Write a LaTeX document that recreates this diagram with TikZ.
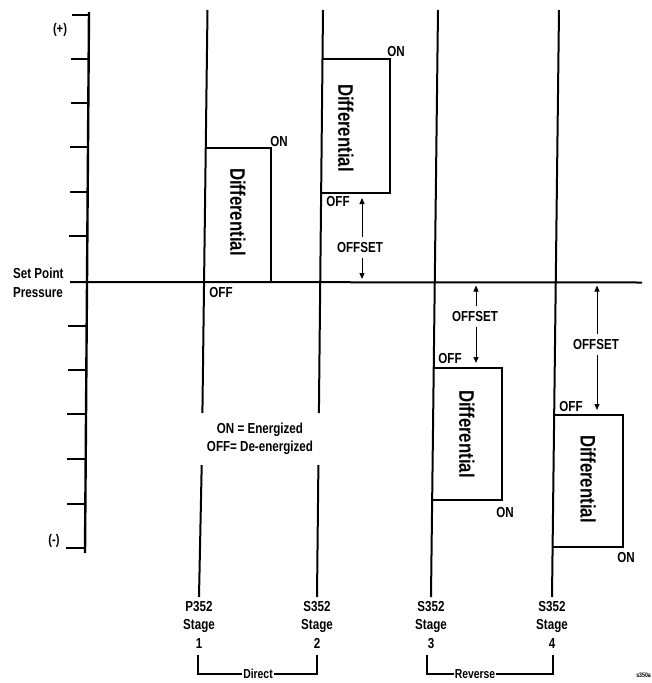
\documentclass[tikz,border=0pt]{standalone}
\usepackage{fontspec}
\setmainfont{Liberation Sans}[FakeStretch=0.8]
\usetikzlibrary{arrows.meta}
\begin{document}
\begin{tikzpicture}[x=1pt,y=-1pt,
  lbl/.style={font=\fontsize{14.5}{18.5}\selectfont\bfseries, inner sep=0pt},
  big/.style={font=\fontsize{21}{21}\selectfont\bfseries, rotate=-90, inner sep=0pt},
  ln/.style={line width=2pt},
  edge/.style={line width=1.8pt},
  tickln/.style={line width=2pt},
  offarrow/.style={line width=1pt, -{Triangle[length=6pt,width=5pt]}},
  brk/.style={line width=1.5pt},
]
\useasboundingbox (0,0) rectangle (652,683);

% vertical axis with ticks
\coordinate (axtop) at (89,12);
\coordinate (axbot) at (85,553);
\draw[line width=2.4pt] (axtop) -- (axbot);
\foreach \a/\b/\y in {72/89/15, 71/88.7/59, 71/88.4/103, 70/88/147, 70/87.7/192, 69/87.3/236,
                      68/86.7/326, 68/86.4/370, 67/86/414, 67/85.6/459, 67/85.3/504, 66/85/548}
  \draw[tickln] (\a,\y) -- (\b,\y);
\node[lbl, font=\fontsize{14}{14}\selectfont\bfseries] (plus) at (60,30) {(+)};
\node[lbl, font=\fontsize{14}{14}\selectfont\bfseries] (minus) at (54,541) {(-)};

% set point line
\coordinate (sp0) at (70,282);
\coordinate (sp1) at (642,282.5);
\draw[ln] (sp0) -- (sp1);
\node[lbl, align=left, anchor=west, font=\fontsize{14.5}{19}\selectfont\bfseries] (spl) at (13,283) {Set Point\\Pressure};

% stage labels
\node[lbl, align=center, anchor=north] (s1) at (199,601) {P352\\Stage\\1};
\node[lbl, align=center, anchor=north] (s2) at (317,601) {S352\\Stage\\2};
\node[lbl, align=center, anchor=north] (s3) at (431,601) {S352\\Stage\\3};
\node[lbl, align=center, anchor=north] (s4) at (552,601) {S352\\Stage\\4};

% legend
\node[lbl, align=center] (leg) at (260,439) {ON = Energized\\OFF= De-energized};

% stage lines
\coordinate (t1) at (207.5,10);
\coordinate (t2) at (323,10);
\coordinate (t3) at (438,10);
\coordinate (t4) at (559,10);
\draw[ln] (t1) -- (202.4,413);
\draw[ln] (201.7,465) -- ([yshift=4pt]s1.north);
\draw[ln] (t2) -- (318.9,413);
\draw[ln] (318.4,465) -- ([yshift=4pt]s2.north);
\draw[ln] (t3) -- ([yshift=4pt]s3.north);
\draw[ln] (t4) -- ([yshift=4pt]s4.north);

% differential boxes (left side is the stage line)
\draw[edge] (205.7,148) -- (271,148) -- (271,282);
\draw[edge] (322.5,59) -- (390,59) -- (390,193) -- (321.1,193);
\draw[edge] (434.3,368) -- (502,368) -- (502,500) -- (433,500);
\draw[edge] (554.2,415) -- (623,415) -- (623,547) -- (552.6,547);

\node[big] (d1) at (238,212) {Differential};
\node[big] (d2) at (346,128) {Differential};
\node[big] (d3) at (467,434) {Differential};
\node[big] (d4) at (588,479) {Differential};

% ON / OFF labels
\node[lbl] (on1) at (279,142) {ON};
\node[lbl] (off1) at (221,293) {OFF};
\node[lbl] (on2) at (396,52) {ON};
\node[lbl] (off2) at (338,202) {OFF};
\node[lbl] (off3) at (450,359) {OFF};
\node[lbl] (on3) at (505,513) {ON};
\node[lbl] (off4) at (571,407) {OFF};
\node[lbl] (on4) at (626,558) {ON};

% offsets
\node[lbl] (o2) at (360,248) {OFFSET};
\draw[offarrow] ([xshift=2pt,yshift=6pt]o2.north) -- (362,198);
\draw[offarrow] ([xshift=2pt,yshift=-5pt]o2.south) -- (362,279);
\node[lbl] (o3) at (475,317) {OFFSET};
\draw[offarrow] ([xshift=1pt,yshift=6pt]o3.north) -- (476,285.5);
\draw[offarrow] ([xshift=1pt,yshift=-5pt]o3.south) -- (476,363);
\node[lbl] (o4) at (596,345) {OFFSET};
\draw[offarrow] ([xshift=1pt,yshift=6pt]o4.north) -- (597,285.5);
\draw[offarrow] ([xshift=1pt,yshift=-5pt]o4.south) -- (597,410);

% brackets
\node[lbl, font=\fontsize{13}{13}\selectfont\bfseries] (dir) at (258,674) {Direct};
\node[lbl, font=\fontsize{13}{13}\selectfont\bfseries] (rev) at (475,674) {Reverse};
\draw[brk] ([xshift=-1pt,yshift=-6pt]s1.south) |- ([xshift=-1pt]dir.west);
\draw[brk] ([yshift=-6pt]s2.south) |- ([xshift=1pt]dir.east);
\draw[brk] ([xshift=-4pt,yshift=-6pt]s3.south) |- ([xshift=-1pt]rev.west);
\draw[brk] ([xshift=1pt,yshift=-6pt]s4.south) |- ([xshift=1pt]rev.east);

\node[inner sep=0pt, anchor=east, font=\fontsize{6.5}{6.5}\selectfont\bfseries] (code) at (651,675) {s350a};
\end{tikzpicture}
\end{document}
